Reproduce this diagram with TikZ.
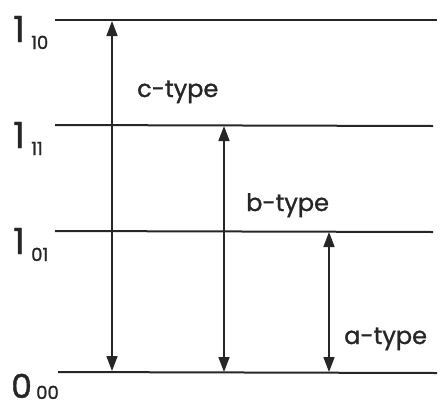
\documentclass[tikz,border=0pt]{standalone}
\usepackage{fontspec}
\setmainfont{Poppins}[FakeBold=1.2]
\usetikzlibrary{arrows.meta}
\begin{document}
\begin{tikzpicture}[x=1pt,y=-1pt,
  level/.style={line width=2pt,draw=black!85},
  trans/.style={line width=1.6pt,draw=black!85,{Triangle[length=15pt,width=11pt]}-{Triangle[length=15pt,width=11pt]}},
  typelabel/.style={anchor=base west,inner sep=0pt,font=\fontsize{24}{24}\selectfont,text=black!85},
  big/.style={anchor=base west,inner sep=0pt,font=\fontsize{36}{36}\selectfont,text=black!85},
  sub/.style={anchor=base west,inner sep=0pt,font=\fontsize{18}{18}\selectfont,text=black!85}]
\useasboundingbox (0,0) rectangle (441,410);
% level lines
\coordinate (L10a) at (55,20);  \coordinate (L10b) at (437,20);
\coordinate (L11a) at (55,125); \coordinate (L11b) at (433,126);
\coordinate (L01a) at (55,231); \coordinate (L01b) at (433,232);
\coordinate (L00a) at (58,372); \coordinate (L00b) at (437,373);
\draw[level] (L10a) -- (L10b);
\draw[level] (L11a) -- (L11b);
\draw[level] (L01a) -- (L01b);
\draw[level] (L00a) -- (L00b);
% arrow endpoints
\coordinate (ct) at (112,21);  \coordinate (cb) at (112,371);
\coordinate (bt) at (224,126); \coordinate (bb) at (224,372);
\coordinate (at) at (329,232); \coordinate (ab) at (329,372);
\draw[trans] (cb) -- (ct);
\draw[trans] (bb) -- (bt);
\draw[trans] (ab) -- (at);
% transition labels
\node[typelabel] (c) at (137,97) {c-type};
\node[typelabel] (b) at (246,211) {b-type};
\node[typelabel] (a) at (344,344) {a-type};
% level labels
\node[big] (n10) at (13,42) {1};  \node[sub] (s10) at (31,49) {10};
\node[big] (n11) at (13,148) {1}; \node[sub] (s11) at (31,155) {11};
\node[big] (n01) at (13,254) {1}; \node[sub] (s01) at (31,261) {01};
\node[big,font=\fontsize{33}{33}\selectfont] (n00) at (11,398) {0}; \node[sub] (s00) at (36,399) {00};
\end{tikzpicture}
\end{document}
